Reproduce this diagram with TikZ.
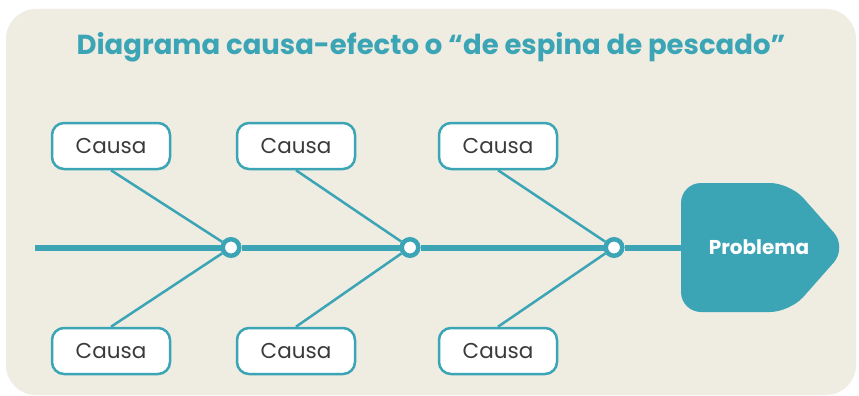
\documentclass[tikz,border=0pt]{standalone}
\usepackage{fontspec}
\setmainfont{Poppins}
\definecolor{fishteal}{HTML}{3BA5B6}
\definecolor{fishbg}{HTML}{EFECE2}
\definecolor{causegray}{HTML}{3A3A3A}

\begin{document}
\begin{tikzpicture}[x=1pt,y=-1pt,
  causa/.style={draw=fishteal,line width=2.5pt,fill=white,rounded corners=12pt,
    minimum width=118pt,minimum height=46pt,text=causegray,
    font=\fontsize{21.5}{24}\selectfont},
  joint/.style={circle,draw=fishteal,line width=4.5pt,fill=white,inner sep=0pt,minimum size=16.5pt},
  bone/.style={draw=fishteal,line width=2.5pt}]
  \useasboundingbox (0,0) rectangle (859,396);
  \fill[white] (0,0) rectangle (859,396);
  \fill[fishbg,rounded corners=30pt] (6,9) rectangle (856,395);

  \node (title) at (431,47) [text=fishteal,font=\bfseries\fontsize{27.5}{31}\selectfont]
    {Diagrama causa-efecto o “de espina de pescado”};

  \fill[fishteal,rounded corners=20pt] (681,183) -- (790,183) -- (847,247.5)
    -- (790,312) -- (681,312) -- cycle;
  \node (prob) at (759,247.5) [minimum width=156pt,minimum height=129pt,text=white,
    font=\bfseries\fontsize{20}{24}\selectfont] {Problema};

  \coordinate (tail) at (35,247.5);
  \node (j1) at (231,247.5) [joint] {};
  \node (j2) at (410,247.5) [joint] {};
  \node (j3) at (614,247.5) [joint] {};
  \draw[fishteal,line width=6pt] (tail) -- (j1) -- (j2) -- (j3) -- (prob.west);

  \node (t1) at (111,146) [causa] {Causa};
  \node (t2) at (296,146) [causa] {Causa};
  \node (t3) at (498,146) [causa] {Causa};
  \node (b1) at (111,351) [causa] {Causa};
  \node (b2) at (296,351) [causa] {Causa};
  \node (b3) at (498,351) [causa] {Causa};

  \draw[bone] (node cs:name=t1,anchor=south) -- (j1);
  \draw[bone] (node cs:name=t2,anchor=south) -- (j2);
  \draw[bone] (node cs:name=t3,anchor=south) -- (j3);
  \draw[bone] (node cs:name=b1,anchor=north) -- (j1);
  \draw[bone] (node cs:name=b2,anchor=north) -- (j2);
  \draw[bone] (node cs:name=b3,anchor=north) -- (j3);
\end{tikzpicture}
\end{document}
